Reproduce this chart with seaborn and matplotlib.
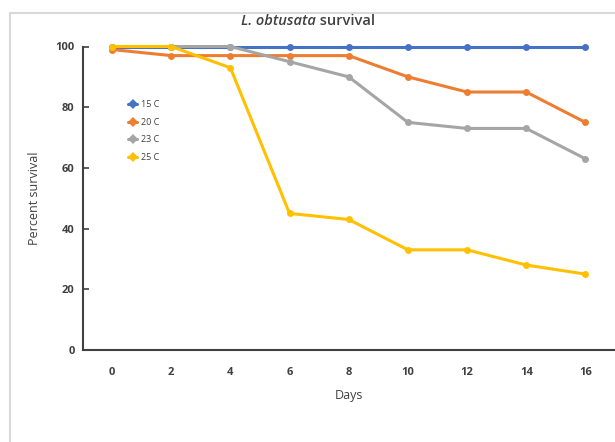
import numpy as np
import pandas as pd
import matplotlib
matplotlib.use("Agg")
import matplotlib.pyplot as plt
import seaborn as sns
from matplotlib.patches import Rectangle

# data
days = [0, 2, 4, 6, 8, 10, 12, 14, 16]
temps = ["15 C", "20 C", "23 C", "25 C"]
surv_15 = [100, 100, 100, 100, 100, 100, 100, 100, 100]
surv_20 = [99, 97, 97, 97, 97, 90, 85, 85, 75]
surv_23 = [100, 100, 100, 95, 90, 75, 73, 73, 63]
surv_25 = [100, 100, 93, 45, 43, 33, 33, 28, 25]
colors = ["#4472C4", "#ED7D31", "#A5A5A5", "#FFC000"]

df = pd.DataFrame({
    "Days": days * 4,
    "Survival": surv_15 + surv_20 + surv_23 + surv_25,
    "Temp": [t for t in temps for _ in days],
})

sns.set_theme(style="white")
plt.rcParams["font.family"] = ["Open Sans", "DejaVu Sans"]

W, H = 615, 442
fig = plt.figure(figsize=(W / 100, H / 100), dpi=100)
ax = fig.add_axes([83 / W, (H - 350) / H, (W - 83) / W, (350 - 46.5) / H])

sns.lineplot(data=df, x="Days", y="Survival", hue="Temp", palette=colors,
             marker="o", markersize=5, markeredgewidth=0, linewidth=2.2,
             ax=ax, legend=True, clip_on=False)

ax.set_xlim(-0.98, 17.0)
ax.set_ylim(0, 100)
ax.set_xticks(days)
ax.set_yticks([0, 20, 40, 60, 80, 100])
ax.tick_params(axis="y", left=True, direction="in", length=4, width=1.2,
               color="#404040", labelsize=8, pad=6, labelcolor="#404040")
ax.tick_params(axis="x", bottom=False, labelsize=8, pad=6, labelcolor="#404040")
for lab in ax.get_xticklabels() + ax.get_yticklabels():
    lab.set_fontweight("bold")

sns.despine(ax=ax, top=True, right=True)
for side in ["left", "bottom"]:
    ax.spines[side].set_color("#404040")
    ax.spines[side].set_linewidth(1.5)

ax.set_xlabel("Days", fontsize=9, color="#404040", labelpad=8)
ax.set_ylabel("Percent survival", fontsize=9, color="#404040")
ax.yaxis.set_label_coords((41 - 83) / (W - 83), 0.5)

# title: italic species name plus normal word
fig.text(316 / W, (H - 21) / H, "L. obtusata", ha="right", va="center",
         fontsize=10.5, color="#404040", style="italic", fontweight="semibold")
fig.text(316 / W, (H - 21) / H, " survival", ha="left", va="center",
         fontsize=10.5, color="#404040", fontweight="semibold")

leg = ax.legend(title=None, loc="upper left", bbox_to_anchor=(0.07, 0.85),
                frameon=False, fontsize=6.5, handlelength=1.0,
                handletextpad=0.45, labelspacing=0.95)
for txt in leg.get_texts():
    txt.set_color("#404040")
for h in leg.legend_handles:
    h.set_marker("D")
    h.set_markersize(5.5)

fig.add_artist(Rectangle((10 / W, -0.05), 1.1, (H - 12.5) / H + 0.05,
                         transform=fig.transFigure, fill=False,
                         edgecolor="#D9D9D9", linewidth=1.5))

fig.savefig("out.png", dpi=100)
